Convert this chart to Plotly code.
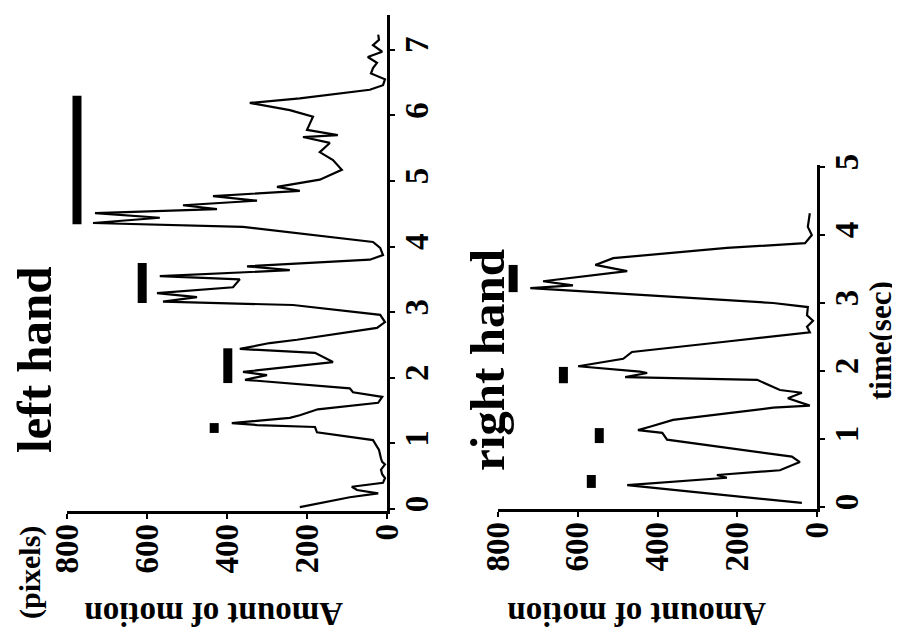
import plotly.graph_objects as go

# ---- data (time in seconds, amount of motion in pixels) ----
left_time = [0.03, 0.14, 0.18, 0.24, 0.29, 0.34, 0.40, 0.47, 0.53, 0.60, 0.68, 0.72, 0.77, 0.90, 1.05,
             1.17, 1.25, 1.28, 1.31, 1.39, 1.43, 1.52, 1.62, 1.71, 1.78, 1.84, 1.97, 2.04, 2.09, 2.24,
             2.38, 2.44, 2.53, 2.58, 2.76, 2.85, 2.96, 3.11, 3.16, 3.23, 3.29, 3.38, 3.50, 3.55, 3.64,
             3.70, 3.80, 3.87, 3.98, 4.07, 4.30, 4.36, 4.44, 4.51, 4.57, 4.63, 4.70, 4.77, 4.85, 4.91,
             5.02, 5.17, 5.32, 5.44, 5.58, 5.67, 5.70, 5.78, 5.98, 6.08, 6.19, 6.26, 6.39, 6.46, 6.55,
             6.64, 6.72, 6.80, 6.89, 6.97, 7.07, 7.15, 7.23]
left_amount = [218, 125, 93, 22, 75, 88, 10, 5, 12, 15, 5, 12, 15, 20, 35,
               175, 180, 325, 388, 243, 218, 173, 22, 12, 85, 93, 355, 300, 360, 135,
               180, 368, 293, 225, 25, 5, 17, 235, 560, 475, 575, 385, 368, 568, 243,
               350, 43, 10, 17, 35, 360, 735, 568, 730, 425, 510, 325, 435, 218, 275,
               168, 113, 135, 168, 143, 210, 123, 200, 185, 243, 343, 218, 43, 10, 5,
               40, 35, 25, 48, 12, 35, 20, 22]

right_time = [0.06, 0.32, 0.43, 0.47, 0.54, 0.66, 0.74, 0.99, 1.09, 1.13, 1.18, 1.28, 1.46, 1.49,
              1.60, 1.68, 1.72, 1.87, 1.91, 1.97, 1.99, 2.07, 2.18, 2.28, 2.43, 2.57, 2.65, 2.74,
              2.82, 2.94, 3.00, 3.22, 3.26, 3.32, 3.47, 3.56, 3.66, 3.81, 3.88, 4.00, 4.12, 4.32]
right_amount = [38, 476, 226, 251, 93, 43, 63, 376, 388, 449, 419, 361, 110, 18,
                73, 38, 93, 150, 481, 426, 444, 599, 486, 464, 231, 18, 25, 10,
                25, 23, 110, 719, 612, 687, 476, 556, 511, 226, 30, 13, 23, 18]

# horizontal marker bars (level, start time, end time)
left_bar_level = [432, 398, 612, 775]
left_bar_start = [1.16, 1.92, 3.14, 4.34]
left_bar_end = [1.31, 2.45, 3.75, 6.30]

right_bar_level = [566, 546, 636, 762]
right_bar_start = [0.28, 0.94, 1.82, 3.16]
right_bar_end = [0.47, 1.16, 2.06, 3.56]

amount_ticks = [0, 200, 400, 600, 800]
left_time_ticks = [0, 1, 2, 3, 4, 5, 6, 7]
right_time_ticks = [0, 1, 2, 3, 4, 5]


def bar_xy(levels, starts, ends):
    xs, ys = [], []
    for lv, s, e in zip(levels, starts, ends):
        xs += [lv, lv, None]
        ys += [s, e, None]
    return xs, ys


FONT = "Liberation Serif"
W, H = 900, 633
OFF = 8  # page body margin


def px(x):
    return (x - OFF) / W


def py(y):
    return 1 - (y - OFF) / H


fig = go.Figure()
fig.add_trace(go.Scatter(x=left_amount, y=left_time, mode="lines",
                         line=dict(color="black", width=2.2), xaxis="x", yaxis="y"))
bx, by = bar_xy(left_bar_level, left_bar_start, left_bar_end)
fig.add_trace(go.Scatter(x=bx, y=by, mode="lines",
                         line=dict(color="black", width=9), xaxis="x", yaxis="y"))
fig.add_trace(go.Scatter(x=right_amount, y=right_time, mode="lines",
                         line=dict(color="black", width=2.2), xaxis="x2", yaxis="y2"))
bx, by = bar_xy(right_bar_level, right_bar_start, right_bar_end)
fig.add_trace(go.Scatter(x=bx, y=by, mode="lines",
                         line=dict(color="black", width=9), xaxis="x2", yaxis="y2"))

tickfont = dict(family=FONT, size=33, color="black", weight="bold")

common_x = dict(range=[800, 0], tickvals=amount_ticks, tickangle=-90, showline=True,
                linewidth=2.5, linecolor="black", ticks="outside", ticklen=5, tickwidth=2,
                tickcolor="black", showgrid=False, zeroline=False, tickfont=tickfont,
                ticklabelstandoff=-8, fixedrange=True, automargin=False)
common_y = dict(side="right", tickangle=-90, showline=True, linewidth=2.5, linecolor="black",
                ticks="outside", ticklen=5, tickwidth=2, tickcolor="black", showgrid=False,
                zeroline=False, tickfont=tickfont, ticklabelstandoff=-6, fixedrange=True,
                automargin=False)

fig.update_layout(
    width=W, height=H, autosize=False,
    margin=dict(l=0, r=0, t=0, b=0, pad=0),
    paper_bgcolor="white", plot_bgcolor="white",
    showlegend=False,
    xaxis=dict(domain=[px(67), px(387)], anchor="y", **common_x),
    yaxis=dict(domain=[py(511), py(15)], anchor="x", range=[-0.03, 7.53],
               tickvals=left_time_ticks, **common_y),
    xaxis2=dict(domain=[px(498), px(817)], anchor="y2", **common_x),
    yaxis2=dict(domain=[py(509), py(165)], anchor="x2", range=[-0.03, 5.03],
                tickvals=right_time_ticks, **common_y),
)


def ann(text, x, y, size, angle):
    fig.add_annotation(text=text, x=px(x), y=py(y), xref="paper", yref="paper",
                       showarrow=False, textangle=angle, xanchor="center", yanchor="middle",
                       font=dict(family=FONT, size=size, color="black", weight="bold"))


ann("left hand", 34, 360, 49, -90)
ann("right hand", 487, 360, 49, -90)
ann("(pixels)", 30, 573, 30, -90)
ann("Amount of motion", 214, 614, 33, 180)
ann("Amount of motion", 637, 614, 33, 180)
ann("time(sec)", 880, 341, 31, -90)

fig.write_html("out.html")
